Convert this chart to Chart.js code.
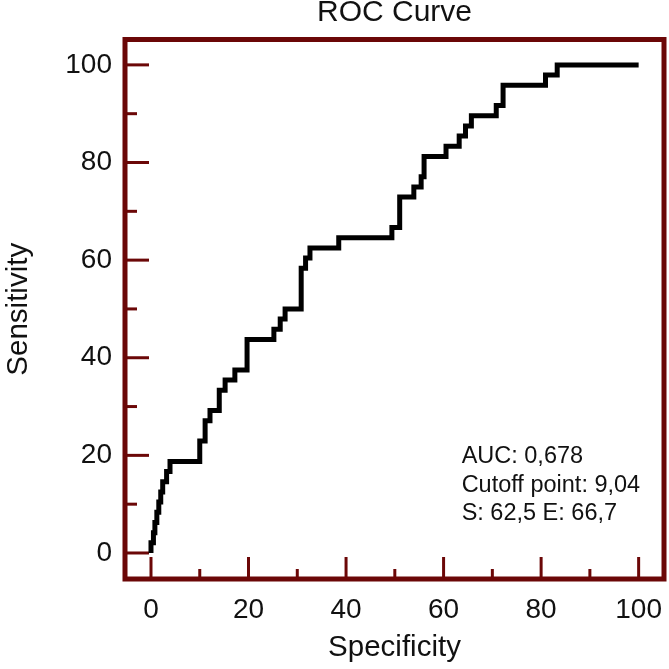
<!DOCTYPE html>
<html>
<head>
<meta charset="utf-8">
<title>ROC Curve</title>
<script src="https://cdn.jsdelivr.net/npm/chart.js@4.4.1/dist/chart.umd.min.js"></script>
<style>
  html, body { margin: 0; padding: 0; background: #fff; }
  #wrap { width: 669px; height: 669px; }
</style>
</head>
<body>
<div id="wrap"><canvas id="rocChart"></canvas></div>
<script>
// points of the ROC staircase (100 - specificity, sensitivity)
var fpr = [0, 0, 0.5, 0.8, 1.2, 1.6, 2.0, 2.4, 3.2, 3.9, 10.0, 11.1, 12.1, 14.0, 15.2, 17.2, 19.7,
           25.2, 26.5, 27.5, 30.8, 31.7, 32.6, 38.5, 49.4, 51.0, 53.9, 55.4, 56.0, 60.5, 63.2,
           64.5, 65.7, 70.8, 72.2, 80.9, 83.3, 100];
var tpr = [0, 2.08, 4.17, 6.25, 8.33, 10.42, 12.5, 14.58, 16.67, 18.75, 22.92, 27.08, 29.17, 33.33, 35.42, 37.5, 43.75,
           45.83, 47.92, 50.0, 58.33, 60.42, 62.5, 64.58, 66.67, 72.92, 75.0, 77.08, 81.25, 83.33, 85.42,
           87.5, 89.58, 91.67, 95.83, 97.92, 100, 100];

var majorTicks = [0, 20, 40, 60, 80, 100];
var minorTicks = [10, 30, 50, 70, 90];
var chartTitle = "ROC Curve";
var infoLines = ["AUC: 0,678", "Cutoff point: 9,04", "S: 62,5 E: 66,7"];

var frameColor = "#6b0707";
var fontFamily = "'Liberation Sans', Arial, sans-serif";

var points = fpr.map(function (x, i) { return { x: x, y: tpr[i] }; });

// frame with inward ticks, title over the plot, info text
var framePlugin = {
  id: "frame",
  beforeDatasetsDraw: function (chart) {
    var ctx = chart.ctx;
    var area = chart.chartArea;
    var xs = chart.scales.x, ys = chart.scales.y;
    ctx.save();
    ctx.strokeStyle = frameColor;
    ctx.lineWidth = 3;
    majorTicks.forEach(function (v) {
      var px = xs.getPixelForValue(v);
      ctx.beginPath(); ctx.moveTo(px, area.bottom); ctx.lineTo(px, area.bottom - 22); ctx.stroke();
      var py = ys.getPixelForValue(v);
      ctx.beginPath(); ctx.moveTo(area.left, py); ctx.lineTo(area.left + 24, py); ctx.stroke();
    });
    minorTicks.forEach(function (v) {
      var px = xs.getPixelForValue(v);
      ctx.beginPath(); ctx.moveTo(px, area.bottom); ctx.lineTo(px, area.bottom - 10); ctx.stroke();
      var py = ys.getPixelForValue(v);
      ctx.beginPath(); ctx.moveTo(area.left, py); ctx.lineTo(area.left + 12, py); ctx.stroke();
    });
    ctx.lineWidth = 5;
    ctx.strokeRect(area.left, area.top, area.right - area.left, area.bottom - area.top);
    ctx.restore();
  },
  afterDraw: function (chart) {
    var ctx = chart.ctx;
    var area = chart.chartArea;
    var xs = chart.scales.x, ys = chart.scales.y;
    ctx.save();
    ctx.fillStyle = "#111";
    ctx.font = "30px " + fontFamily;
    ctx.textAlign = "center";
    ctx.textBaseline = "middle";
    ctx.fillText(chartTitle, (area.left + area.right) / 2, 13);

    ctx.font = "23.5px " + fontFamily;
    ctx.textAlign = "left";
    ctx.textBaseline = "alphabetic";
    var x0 = xs.getPixelForValue(63.7);
    var y0 = ys.getPixelForValue(18.4);
    infoLines.forEach(function (t, i) {
      ctx.fillText(t, x0, y0 + i * 28.4);
    });
    ctx.restore();
  }
};

new Chart(document.getElementById("rocChart").getContext("2d"), {
  type: "scatter",
  data: {
    datasets: [{
      data: points,
      showLine: true,
      stepped: "before",
      borderColor: "#000",
      borderWidth: 5,
      borderJoinStyle: "miter",
      pointRadius: 0,
      fill: false
    }]
  },
  options: {
    responsive: true,
    maintainAspectRatio: false,
    animation: false,
    layout: { padding: { right: 5, top: 39.5, left: 0, bottom: 0 } },
    plugins: {
      legend: { display: false },
      tooltip: { enabled: false },
      title: { display: false }
    },
    scales: {
      x: {
        type: "linear",
        min: -5.33,
        max: 105.2,
        afterFit: function (scale) {
          scale.height = 90;
          scale.paddingLeft = 0;
          scale.paddingRight = 0;
        },
        afterBuildTicks: function (scale) { scale.ticks = majorTicks.map(function (v) { return { value: v }; }); },
        grid: { display: false, drawTicks: false },
        border: { display: false },
        ticks: {
          color: "#111",
          padding: 14,
          maxRotation: 0,
          font: { family: fontFamily, size: 28 }
        },
        title: {
          display: true,
          text: "Specificity",
          color: "#111",
          font: { family: fontFamily, size: 29.5 },
          padding: { top: 0, bottom: 3 }
        }
      },
      y: {
        type: "linear",
        min: -5.33,
        max: 105.2,
        afterFit: function (scale) {
          scale.width = 125;
          scale.paddingTop = 0;
          scale.paddingBottom = 0;
        },
        afterBuildTicks: function (scale) { scale.ticks = majorTicks.map(function (v) { return { value: v }; }); },
        grid: { display: false, drawTicks: false },
        border: { display: false },
        ticks: {
          color: "#111",
          padding: 13,
          font: { family: fontFamily, size: 28 }
        },
        title: {
          display: true,
          text: "Sensitivity",
          color: "#111",
          font: { family: fontFamily, size: 29.5 },
          padding: { top: 1, bottom: 0 }
        }
      }
    }
  },
  plugins: [framePlugin]
});
</script>
</body>
</html>
